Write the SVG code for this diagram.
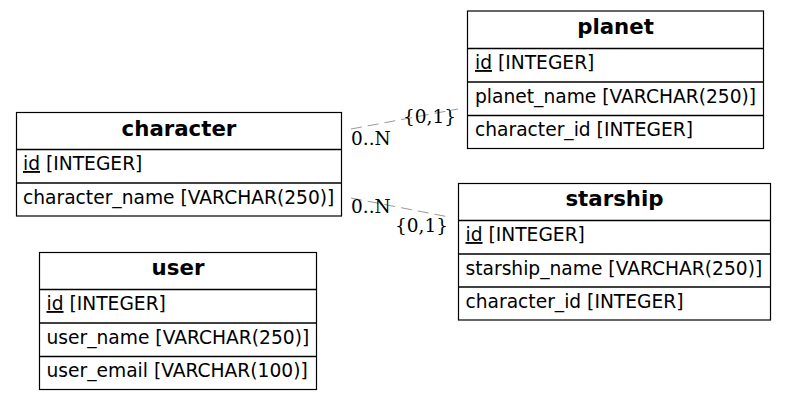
<svg xmlns="http://www.w3.org/2000/svg" width="787" height="400" viewBox="0 0 787 400">
  <style>
    .box { fill: #ffffff; stroke: #000000; stroke-width: 1.2; }
    .sep { stroke: #000000; stroke-width: 1.4; }
    .title { font-family: "DejaVu Sans", sans-serif; font-weight: bold; font-size: 21.3px; fill: #000; text-anchor: middle; }
    .col { font-family: "DejaVu Sans", sans-serif; font-size: 18.67px; fill: #000; }
    .pk { text-decoration: underline; }
    .rel { fill: none; stroke: #999999; stroke-width: 1; stroke-dasharray: 11,6; }
    .card { font-family: "DejaVu Serif", serif; font-size: 18.5px; fill: #000; }
  </style>
  <rect width="787" height="400" fill="#ffffff"/>

  <!-- relationships -->
  <g id="connectors">
    <path class="rel" d="M351,129 L458,109"/>
    <path class="rel" d="M351,198 L449,217"/>
    <text class="card" x="351" y="145">0..N</text>
    <text class="card" x="403" y="123">{0,1}</text>
    <text class="card" x="351" y="213">0..N</text>
    <text class="card" x="395" y="232">{0,1}</text>
  </g>

  <!-- planet -->
  <g id="planet">
    <rect class="box" x="467.5" y="11" width="296" height="137.5"/>
    <line class="sep" x1="467.5" y1="48.5" x2="763.5" y2="48.5"/>
    <line class="sep" x1="467.5" y1="82" x2="763.5" y2="82"/>
    <line class="sep" x1="467.5" y1="115.5" x2="763.5" y2="115.5"/>
    <text class="title" x="615.5" y="34">planet</text>
    <text class="col" x="475" y="69"><tspan class="pk">id</tspan> [INTEGER]</text>
    <text class="col" x="475" y="102.5">planet_name [VARCHAR(250)]</text>
    <text class="col" x="475" y="136">character_id [INTEGER]</text>
  </g>

  <!-- character -->
  <g id="character">
    <rect class="box" x="16.5" y="112.5" width="325" height="103.5"/>
    <line class="sep" x1="16.5" y1="149.5" x2="341.5" y2="149.5"/>
    <line class="sep" x1="16.5" y1="183" x2="341.5" y2="183"/>
    <text class="title" x="179" y="135.5">character</text>
    <text class="col" x="23" y="170"><tspan class="pk">id</tspan> [INTEGER]</text>
    <text class="col" x="23" y="203.5">character_name [VARCHAR(250)]</text>
  </g>

  <!-- starship -->
  <g id="starship">
    <rect class="box" x="458.5" y="183.5" width="312" height="136.5"/>
    <line class="sep" x1="458.5" y1="220.5" x2="770.5" y2="220.5"/>
    <line class="sep" x1="458.5" y1="254" x2="770.5" y2="254"/>
    <line class="sep" x1="458.5" y1="287" x2="770.5" y2="287"/>
    <text class="title" x="614.5" y="206">starship</text>
    <text class="col" x="465.5" y="241"><tspan class="pk">id</tspan> [INTEGER]</text>
    <text class="col" x="465.5" y="274.5">starship_name [VARCHAR(250)]</text>
    <text class="col" x="465.5" y="307.5">character_id [INTEGER]</text>
  </g>

  <!-- user -->
  <g id="user">
    <rect class="box" x="39.5" y="252.5" width="277" height="137"/>
    <line class="sep" x1="39.5" y1="289.5" x2="316.5" y2="289.5"/>
    <line class="sep" x1="39.5" y1="323" x2="316.5" y2="323"/>
    <line class="sep" x1="39.5" y1="356.5" x2="316.5" y2="356.5"/>
    <text class="title" x="178" y="275">user</text>
    <text class="col" x="46.5" y="310"><tspan class="pk">id</tspan> [INTEGER]</text>
    <text class="col" x="46.5" y="343.5">user_name [VARCHAR(250)]</text>
    <text class="col" x="46.5" y="377">user_email [VARCHAR(100)]</text>
  </g>
</svg>
